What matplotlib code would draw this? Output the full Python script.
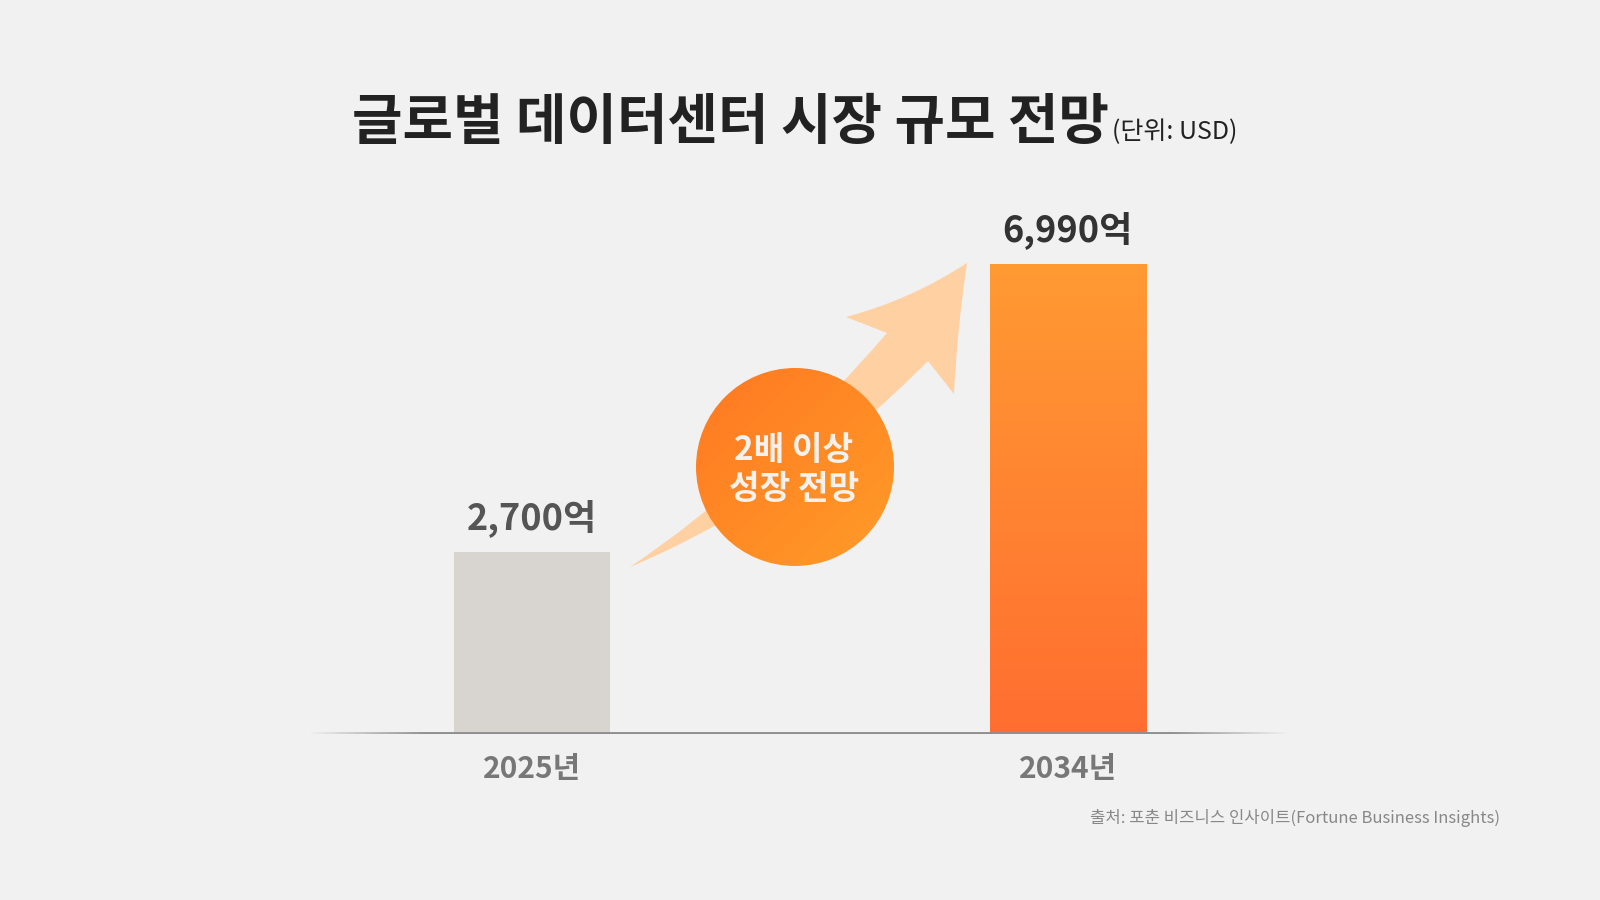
import numpy as np
import matplotlib
matplotlib.use("Agg")
import matplotlib.pyplot as plt
from matplotlib.patches import Rectangle, Circle, PathPatch
from matplotlib.path import Path
from matplotlib.collections import LineCollection
import matplotlib.colors as mcolors

plt.rcParams['font.family'] = ['Noto Sans CJK KR', 'DejaVu Sans']

# ---- data ----
years = ["2025년", "2034년"]
values = [2700, 6990]
value_labels = ["2,700억", "6,990억"]
title = "글로벌 데이터센터 시장 규모 전망"
unit = "(단위: USD)"
badge = "2배 이상\n성장 전망"
source = "출처: 포춘 비즈니스 인사이트(Fortune Business Insights)"

W, H = 1600, 900
BG = "#F1F1F1"
fig = plt.figure(figsize=(16, 9), dpi=100, facecolor=BG)

# ---- bar axes ----
ax_l, ax_r = 306, 1291
ax_b, ax_t = 733.6, 196.5
ax = fig.add_axes([ax_l / W, 1 - ax_b / H, (ax_r - ax_l) / W, (ax_b - ax_t) / H])
ax.set_facecolor("none")
ax.set_xlim(-0.422, 1.4164)
ax.set_ylim(0, 8000)
ax.axis("off")

x = np.arange(len(years))
bw = 0.2914
bars = ax.bar(x, values, width=bw, color=["#D8D5D0", "none"], zorder=2)

# gradient on second bar
grad = mcolors.LinearSegmentedColormap.from_list("g", ["#FF6E30", "#FF9A33"])
b = bars[1]
g = np.linspace(0, 1, 256).reshape(-1, 1)
im = ax.imshow(g, cmap=grad, origin="lower", aspect="auto",
               extent=[b.get_x(), b.get_x() + b.get_width(), 0, b.get_height()], zorder=2)
im.set_clip_path(b)
ax.set_xlim(-0.422, 1.4164)
ax.set_ylim(0, 8000)

# baseline with faded ends
n = 200
xs = np.linspace(-0.422, 1.4164, n + 1)
segs = [[(xs[i], 0), (xs[i + 1], 0)] for i in range(n)]
t = np.linspace(0, 1, n)
alpha = np.clip(np.minimum(t, 1 - t) / 0.12, 0, 1)
cols = [(0.56, 0.56, 0.56, a) for a in alpha]
ax.add_collection(LineCollection(segs, colors=cols, linewidths=2.8, zorder=3, capstyle="butt"))

# value labels and year labels
lab_colors = ["#555555", "#333333"]
for i, (v, lab) in enumerate(zip(values, value_labels)):
    ax.annotate(lab, (x[i], v), xytext=(0, 11), textcoords="offset points",
                ha="center", va="bottom", fontsize=26, fontweight="bold",
                color=lab_colors[i], zorder=4)
    ax.annotate(years[i], (x[i], 0), xytext=(0, -15), textcoords="offset points",
                ha="center", va="top", fontsize=21.5, fontweight="bold",
                color="#777777", zorder=4)

# ---- overlay axes (pixel coords) ----
ov = fig.add_axes([0, 0, 1, 1])
ov.set_xlim(0, W)
ov.set_ylim(H, 0)
ov.axis("off")
ov.set_facecolor("none")
ov.set_zorder(5)

# curved arrow
verts = [
    (630, 567),
    (760, 480), (887, 333),
    (846, 317),
    (910, 300), (967, 263),
    (957, 330), (954, 394),
    (928, 361),
    (790, 500), (630, 567),
]
codes = [Path.MOVETO,
         Path.CURVE3, Path.CURVE3,
         Path.LINETO,
         Path.CURVE3, Path.CURVE3,
         Path.CURVE3, Path.CURVE3,
         Path.LINETO,
         Path.CURVE3, Path.CURVE3]
ov.add_patch(PathPatch(Path(verts, codes), facecolor="#FFD0A2", edgecolor="none", zorder=1))

# badge circle with gradient
cx, cy, r = 795, 467, 99
circ = Circle((cx, cy), r, facecolor="none", edgecolor="none", zorder=2)
ov.add_patch(circ)
gx, gy = np.meshgrid(np.linspace(0, 1, 200), np.linspace(0, 1, 200))
gd = (gx + gy) / 2
cgrad = mcolors.LinearSegmentedColormap.from_list("c", ["#FF7822", "#FF9C28"])
cim = ov.imshow(gd, cmap=cgrad, extent=[cx - r, cx + r, cy + r, cy - r],
                origin="upper", aspect="auto", zorder=2)
cim.set_clip_path(circ)
ov.set_xlim(0, W)
ov.set_ylim(H, 0)
ov.text(cx - 1, cy + 3, badge, ha="center", va="center", fontsize=24, fontweight="bold",
        color="#F6F1EC", linespacing=1.2, zorder=3)

# title
ov.text(1109, 139, title, ha="right", va="baseline", fontsize=39.5, fontweight="heavy",
        color="#222222")
ov.text(1112, 139, unit, ha="left", va="baseline", fontsize=18, color="#222222")

# source
ov.text(1500, 823, source, ha="right", va="baseline", fontsize=12, color="#888888")

fig.savefig("out.png", dpi=100, facecolor=BG)
